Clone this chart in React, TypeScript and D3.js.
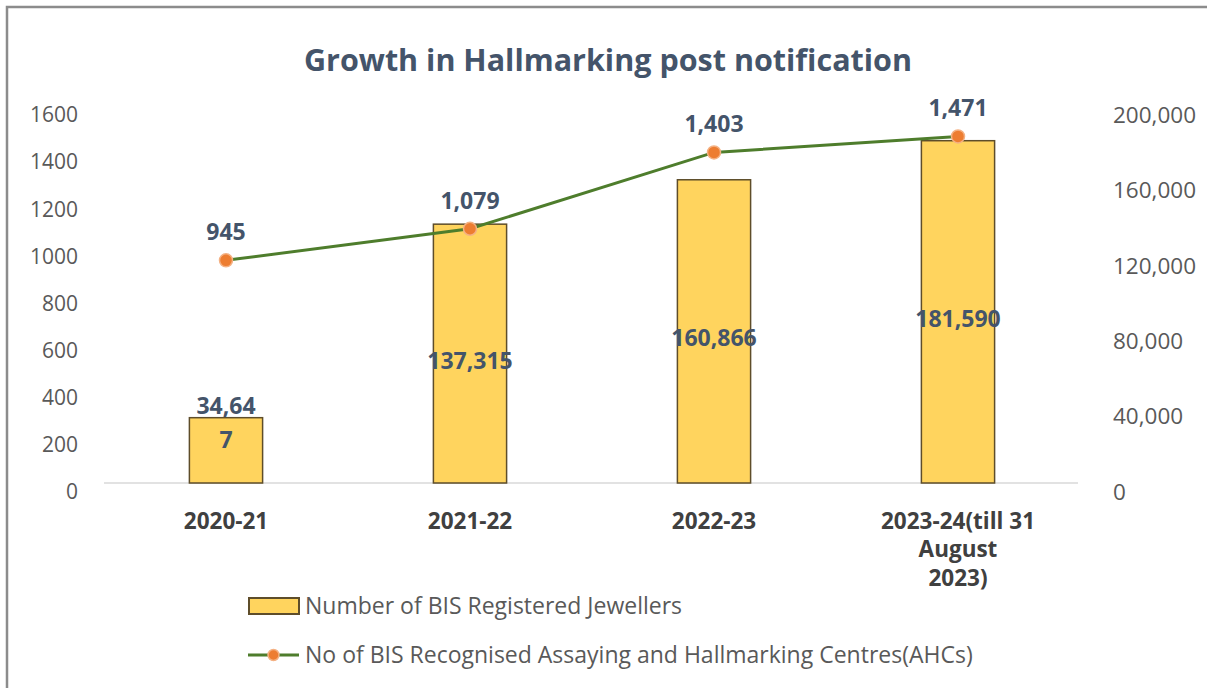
import * as d3 from 'd3';

const categories = ['2020-21', '2021-22', '2022-23', '2023-24(till 31 August 2023)'];
const categoryLines = [['2020-21'], ['2021-22'], ['2022-23'], ['2023-24(till 31', 'August', '2023)']];
const jewellers = [34647, 137315, 160866, 181590];
const centres = [945, 1079, 1403, 1471];
// the first bar label is wrapped in the source
const jewellerLabelLines = [['34,64', '7'], ['137,315'], ['160,866'], ['181,590']];
const leftTicks = [0, 200, 400, 600, 800, 1000, 1200, 1400, 1600];
const rightTicks = [0, 40000, 80000, 120000, 160000, 200000];

const W = 1207;
const H = 688;
const FONT = '"Open Sans", "Noto Sans", sans-serif';
const labelColor = '#44546a';

export default function App() {
  const x = d3
    .scaleBand<string>()
    .domain(categories)
    .range([104, 1080])
    .paddingInner(0.7)
    .paddingOuter(0.35);
  const yLeft = d3.scaleLinear().domain([0, 1600]).range([483, 106]);
  const yRight = d3.scaleLinear().domain([0, 200000]).range([483, 106]);
  const cx = (c: string) => (x(c) || 0) + x.bandwidth() / 2;

  const line = d3
    .line<number>()
    .x((_, i) => cx(categories[i]))
    .y((d) => yLeft(d));

  const fmt = d3.format(',');

  return (
    <div style={{ position: 'absolute', left: 0, top: 0 }}>
      <svg width={W} height={H} style={{ display: 'block', fontFamily: FONT }}>
        <rect x={0} y={0} width={W} height={H} fill="#fff" />
        <path d={`M7,${H + 5}V7H${W + 5}`} fill="none" stroke="#8c8c8c" strokeWidth={2.5} />

        <text x={608} y={71} textAnchor="middle" fontSize={30.5} fontWeight={700} fill={labelColor}>
          Growth in Hallmarking post notification
        </text>

        {/* left axis labels */}
        {leftTicks.map((t) => (
          <text key={'l' + t} x={78} y={yLeft(t) + 9} dy="0.35em" textAnchor="end" fontSize={21} fill="#595959">
            {t}
          </text>
        ))}
        {/* right axis labels */}
        {rightTicks.map((t) => (
          <text key={'r' + t} x={1113} y={yRight(t) + 9} dy="0.35em" textAnchor="start" fontSize={22.5} fill="#595959">
            {fmt(t)}
          </text>
        ))}

        <line x1={104} x2={1078} y1={yRight(0)} y2={yRight(0)} stroke="#d9d9d9" strokeWidth={1.5} />

        {/* bars */}
        {categories.map((c, i) => (
          <rect
            key={'b' + c}
            x={x(c)}
            y={yRight(jewellers[i])}
            width={x.bandwidth()}
            height={yRight(0) - yRight(jewellers[i])}
            fill="#ffd45e"
            stroke="#5e4d2a"
            strokeWidth={1.5}
          />
        ))}

        {/* bar labels */}
        {categories.map((c, i) => {
          const lines = jewellerLabelLines[i];
          const top = yRight(jewellers[i]);
          const mid = (top + yRight(0)) / 2;
          const y0 = lines.length > 1 ? top - 12 : mid + 7;
          return (
            <text key={'bl' + c} x={cx(c)} textAnchor="middle" fontSize={23} fontWeight={700} fill={labelColor}>
              {lines.map((ln, k) => (
                <tspan key={k} x={cx(c)} y={y0 + k * 34} dy="0.35em">
                  {ln}
                </tspan>
              ))}
            </text>
          );
        })}

        {/* line series */}
        <path d={line(centres) || ''} fill="none" stroke="#4e7d2c" strokeWidth={3} />
        {categories.map((c, i) => (
          <circle key={'p' + c} cx={cx(c)} cy={yLeft(centres[i])} r={6.5} fill="#ed7d31" stroke="#f4b183" strokeWidth={1.5} />
        ))}
        {categories.map((c, i) => (
          <text
            key={'pl' + c}
            x={cx(c)}
            y={yLeft(centres[i]) - 28}
            dy="0.35em"
            textAnchor="middle"
            fontSize={23}
            fontWeight={700}
            fill={labelColor}
          >
            {fmt(centres[i])}
          </text>
        ))}

        {/* category labels */}
        {categories.map((c, i) => (
          <text key={'x' + c} textAnchor="middle" fontSize={22.5} fontWeight={700} fill="#404040">
            {categoryLines[i].map((ln, k) => (
              <tspan key={k} x={cx(c)} y={521 + k * 28.5} dy="0.35em">
                {ln}
              </tspan>
            ))}
          </text>
        ))}

        {/* legend */}
        <rect x={249} y={598} width={50} height={16} fill="#ffd45e" stroke="#5e4d2a" strokeWidth={2} />
        <text x={305} y={606} dy="0.35em" fontSize={23} fill="#595959">
          Number of BIS Registered Jewellers
        </text>
        <line x1={248} x2={299} y1={655} y2={655} stroke="#4e7d2c" strokeWidth={3} />
        <circle cx={273.5} cy={655} r={5.5} fill="#ed7d31" stroke="#f4b183" strokeWidth={1.5} />
        <text x={305} y={655} dy="0.35em" fontSize={23} fill="#595959">
          No of BIS Recognised Assaying and Hallmarking Centres(AHCs)
        </text>
      </svg>
    </div>
  );
}
